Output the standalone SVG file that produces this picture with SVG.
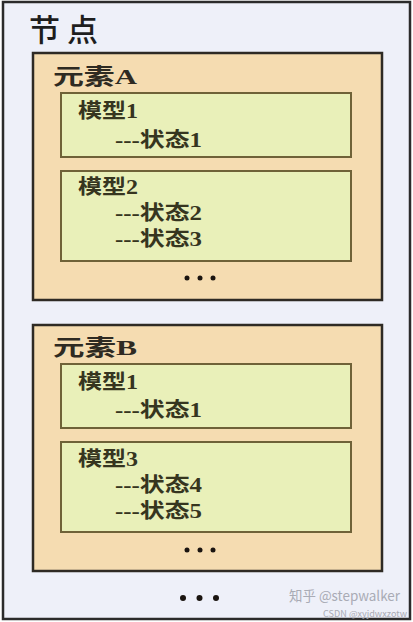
<svg xmlns="http://www.w3.org/2000/svg" width="413" height="622" viewBox="0 0 413 622">
<style>
.outer{fill:#eef0f9;stroke:#2b2b2b;stroke-width:2.5}
.elem{fill:#f5dcb1;stroke:#2e2a24;stroke-width:2.5}
.model{fill:#e9f0b9;stroke:#6f6238;stroke-width:2}
.t{font-family:'Liberation Serif','Noto Sans CJK SC',serif;font-weight:bold;fill:#36351f}
.title{font-family:'Noto Sans CJK SC',sans-serif;font-weight:500;font-size:31px;fill:#1e1e1e}
.et{font-size:22px;fill:#2e2a22}
.mt{font-size:20px}
.dot{fill:#1a1410}
.wm{font-family:'Noto Sans CJK SC','Liberation Sans',sans-serif;fill:#a9abb5}
</style>
<g id="node">
<rect class="outer" x="3" y="2" width="407" height="617"/>
<text class="title" x="29" y="41" textLength="69" lengthAdjust="spacing">节点</text>
<circle class="dot" cx="183" cy="598" r="3"/>
<circle class="dot" cx="199.5" cy="598" r="3"/>
<circle class="dot" cx="216" cy="598" r="3"/>
</g>
<g id="elementA">
<rect class="elem" x="33" y="53" width="349" height="247"/>
<text class="t et" x="53" y="84" textLength="84" lengthAdjust="spacingAndGlyphs">元素A</text>
<circle class="dot" cx="187" cy="278" r="2.5"/>
<circle class="dot" cx="200" cy="278" r="2.5"/>
<circle class="dot" cx="213" cy="278" r="2.5"/>
</g>
<g id="elementA-model1">
<rect class="model" x="61" y="93" width="290" height="64"/>
<text class="t mt" x="78" y="118" textLength="60" lengthAdjust="spacingAndGlyphs">模型1</text>
<text class="t mt" x="115" y="147" textLength="87" lengthAdjust="spacingAndGlyphs">---状态1</text>
</g>
<g id="elementA-model2">
<rect class="model" x="61" y="171" width="290" height="90"/>
<text class="t mt" x="78" y="194" textLength="60" lengthAdjust="spacingAndGlyphs">模型2</text>
<text class="t mt" x="115" y="220" textLength="87" lengthAdjust="spacingAndGlyphs">---状态2</text>
<text class="t mt" x="115" y="246" textLength="87" lengthAdjust="spacingAndGlyphs">---状态3</text>
</g>
<g id="elementB">
<rect class="elem" x="33" y="325" width="349" height="246"/>
<text class="t et" x="53" y="355" textLength="84" lengthAdjust="spacingAndGlyphs">元素B</text>
<circle class="dot" cx="187" cy="550" r="2.5"/>
<circle class="dot" cx="200" cy="550" r="2.5"/>
<circle class="dot" cx="213" cy="550" r="2.5"/>
</g>
<g id="elementB-model1">
<rect class="model" x="61" y="364" width="290" height="64"/>
<text class="t mt" x="78" y="389" textLength="60" lengthAdjust="spacingAndGlyphs">模型1</text>
<text class="t mt" x="115" y="417" textLength="87" lengthAdjust="spacingAndGlyphs">---状态1</text>
</g>
<g id="elementB-model3">
<rect class="model" x="61" y="442" width="290" height="90"/>
<text class="t mt" x="78" y="466" textLength="60" lengthAdjust="spacingAndGlyphs">模型3</text>
<text class="t mt" x="115" y="492" textLength="87" lengthAdjust="spacingAndGlyphs">---状态4</text>
<text class="t mt" x="115" y="518" textLength="87" lengthAdjust="spacingAndGlyphs">---状态5</text>
</g>
<g id="watermark">
<text class="wm" x="289" y="601" font-size="14" textLength="111" lengthAdjust="spacingAndGlyphs">知乎 @stepwalker</text>
<text class="wm" x="323" y="617" font-size="8.5" textLength="84" lengthAdjust="spacingAndGlyphs">CSDN @xyjdwxzotw</text>
</g>
</svg>
